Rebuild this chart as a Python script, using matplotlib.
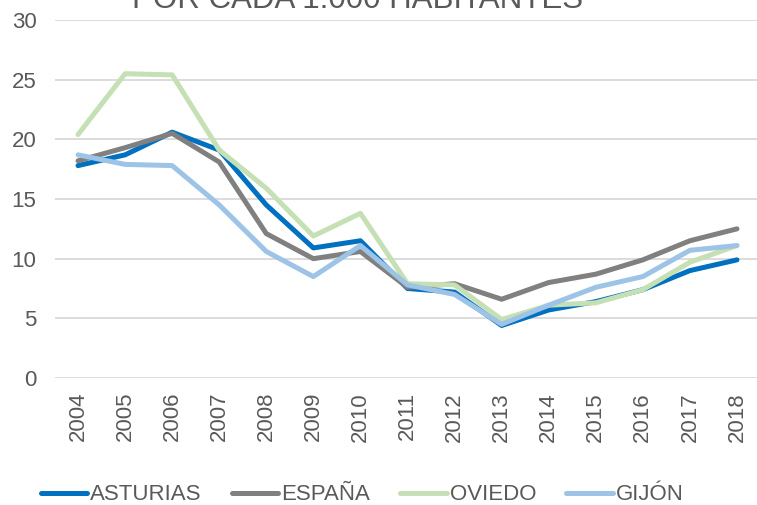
import matplotlib.pyplot as plt
import numpy as np

plt.rcParams['font.family'] = ['Liberation Sans', 'DejaVu Sans']

years = [str(y) for y in range(2004, 2019)]

asturias = [17.8, 18.7, 20.6, 19.1, 14.5, 10.9, 11.5, 7.5, 7.2, 4.4, 5.7, 6.4, 7.4, 9.0, 9.9]
espana = [18.2, 19.3, 20.5, 18.1, 12.1, 10.0, 10.6, 7.6, 7.9, 6.6, 8.0, 8.7, 9.9, 11.5, 12.5]
oviedo = [20.4, 25.5, 25.4, 19.1, 15.9, 11.9, 13.8, 7.9, 7.8, 4.9, 6.1, 6.3, 7.4, 9.7, 11.1]
gijon = [18.7, 17.9, 17.8, 14.5, 10.6, 8.5, 11.1, 7.8, 7.0, 4.5, 6.1, 7.6, 8.5, 10.7, 11.1]

series = [
    ('ASTURIAS', asturias, '#0070C0'),
    ('ESPAÑA', espana, '#808080'),
    ('OVIEDO', oviedo, '#C5E0B4'),
    ('GIJÓN', gijon, '#9DC3E6'),
]

text_color = '#595959'

fig = plt.figure(figsize=(7.57, 5.05), dpi=100)
ax = fig.add_axes([54.5 / 757, 1 - 378 / 505, 706 / 757, 358 / 505])

x = np.arange(len(years))
for name, vals, color in series:
    ax.plot(x, vals, color=color, linewidth=3.6, label=name,
            solid_capstyle='round', solid_joinstyle='round')

ax.set_xlim(-0.5, len(years) - 0.5)
ax.set_ylim(0, 30)
ax.set_yticks(range(0, 31, 5))
ax.set_xticks(x)
ax.set_xticklabels(years, rotation=90)
ax.tick_params(length=0, colors=text_color, labelsize=16)
ax.tick_params(axis='y', pad=13)
ax.tick_params(axis='x', pad=10)
ax.grid(axis='y', color='#D9D9D9', linewidth=1.3)
ax.set_axisbelow(True)
for s in ax.spines.values():
    s.set_visible(False)

# title, cut off at the top of the picture
fig.text(357 / 757, 1 - 8 / 505, 'POR CADA 1.000 HABITANTES', ha='center',
         va='baseline', fontsize=22.5, color=text_color)

fig.legend(loc='center', bbox_to_anchor=(362 / 757, 1 - 495 / 505), ncol=4,
           frameon=False, fontsize=16, handlelength=2.1, handletextpad=0.13,
           columnspacing=1.35, labelcolor=text_color)

fig.savefig('out.png', dpi=100)
